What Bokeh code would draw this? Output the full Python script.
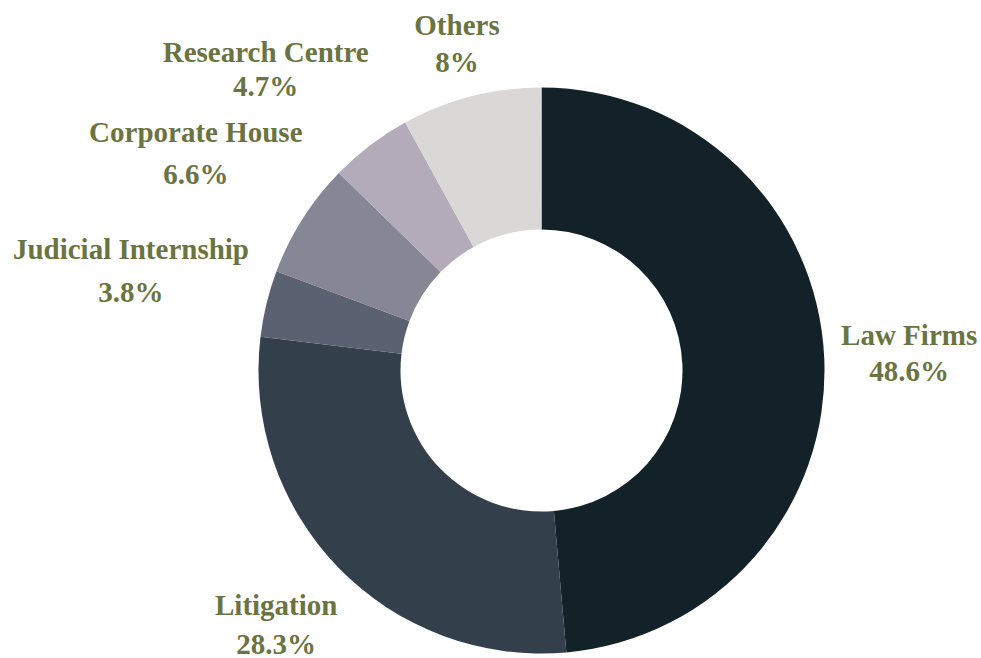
import math
from bokeh.plotting import figure
from bokeh.models import Range1d, ColumnDataSource
from bokeh.core.properties import value
from bokeh.embed import file_html
from bokeh.resources import INLINE

categories = ["Law Firms", "Litigation", "Judicial Internship", "Corporate House", "Research Centre", "Others"]
shares = [48.6, 28.3, 3.8, 6.6, 4.7, 8.0]
pct_labels = ["48.6%", "28.3%", "3.8%", "6.6%", "4.7%", "8%"]
colors = ["#122228", "#333f4a", "#5a6170", "#878694", "#b3abba", "#d9d8d7"]

# layout (pixels)
W, H = 981, 658
CX, CY = 541, 370          # donut centre in figure pixels (from top-left)
R_OUT, R_IN = 283, 141
R_LAB = 368
# per-label nudges: (dx, dy_name, dy_pct) in screen px (down = positive)
nudges = [(0, -19, 17), (-1, -22, 17), (-53, -34, 9), (-35, -41, 1), (-53, -26, 8), (7, 11, 48)]

total = sum(shares)
starts, ends, mids = [], [], []
cum = 0.0
for s in shares:
    f0 = cum / total
    cum += s
    f1 = cum / total
    starts.append(math.pi / 2 - 2 * math.pi * f0)
    ends.append(math.pi / 2 - 2 * math.pi * f1)
    mids.append((f0 + f1) / 2)

src = ColumnDataSource(dict(start=starts, end=ends, color=colors))

p = figure(width=W, height=H, output_backend="svg", toolbar_location=None,
           x_range=Range1d(-CX, W - CX), y_range=Range1d(-(H - CY), CY),
           min_border=0, outline_line_color=None, background_fill_color="white")
p.axis.visible = False
p.grid.visible = False

p.annular_wedge(x=0, y=0, inner_radius=R_IN, outer_radius=R_OUT,
                start_angle="start", end_angle="end", direction="clock",
                fill_color="color", line_color=None, source=src)

lx, ly = [], []
for m in mids:
    a = 2 * math.pi * m
    lx.append(R_LAB * math.sin(a))
    ly.append(R_LAB * math.cos(a))

lab_src = ColumnDataSource(dict(
    x=[lx[i] + nudges[i][0] for i in range(len(lx))],
    y_name=[ly[i] - nudges[i][1] for i in range(len(ly))],
    y_pct=[ly[i] - nudges[i][2] for i in range(len(ly))],
    name=categories, pct=pct_labels))

common = dict(text_font=value("Liberation Serif"), text_font_style="bold",
              text_font_size="29px", text_color="#6b7440",
              text_align="center", text_baseline="alphabetic", source=lab_src)
p.text(x="x", y="y_name", text="name", **common)
p.text(x="x", y="y_pct", text="pct", **common)

open("out.html", "w").write(file_html(p, INLINE))
